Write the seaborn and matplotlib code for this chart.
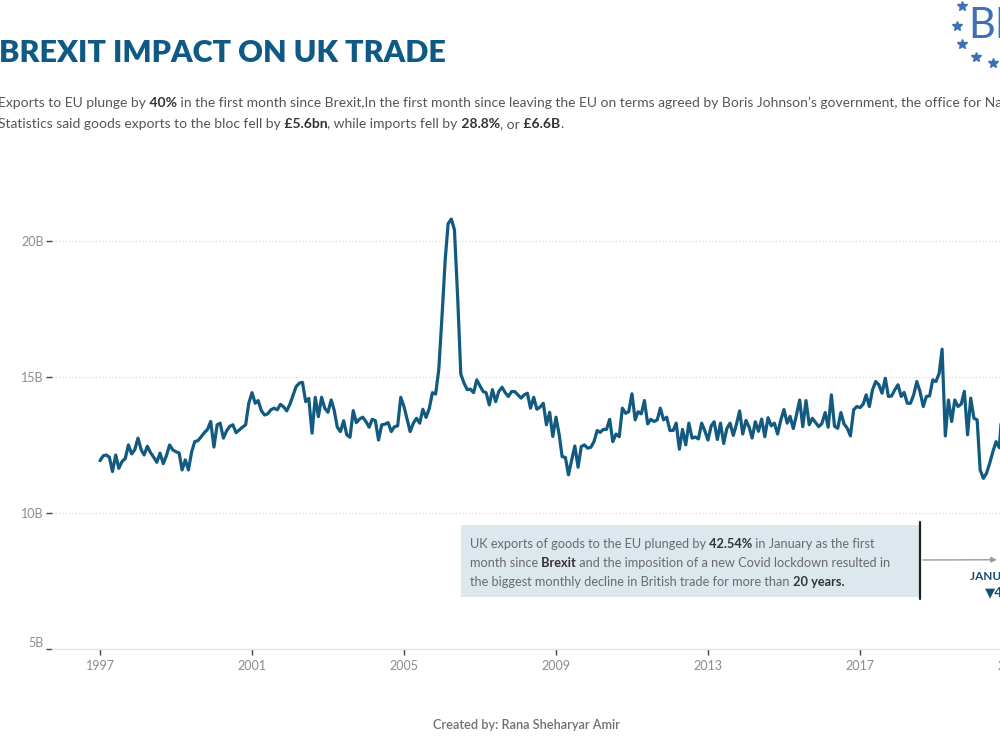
import numpy as np
import pandas as pd
import seaborn as sns
import matplotlib.pyplot as plt

# monthly UK goods exports to the EU, £bn (Jan 1997 .. Jan 2021)
exports_bn = [
    11.92, 12.10, 12.13, 12.05, 11.52, 12.13, 11.64, 11.89, 12.00, 12.50, 12.17, 12.32,  # 1997
    12.75, 12.32, 12.13, 12.45, 12.22, 12.05, 11.86, 12.20, 11.81, 12.10, 12.50, 12.32,  # 1998
    12.25, 12.20, 11.58, 11.95, 11.58, 12.25, 12.62, 12.66, 12.80, 12.95, 13.07, 13.36,  # 1999
    12.42, 13.24, 13.30, 12.75, 13.01, 13.18, 13.24, 12.95, 13.05, 13.15, 13.24, 14.03,  # 2000
    14.42, 14.03, 14.13, 13.76, 13.60, 13.64, 13.79, 13.85, 13.79, 13.99, 13.90, 13.75,  # 2001
    14.00, 14.34, 14.64, 14.77, 14.80, 14.09, 14.21, 12.93, 14.25, 13.54, 14.25, 13.85,  # 2002
    13.70, 14.15, 13.79, 13.15, 12.99, 13.39, 12.87, 12.78, 13.76, 13.32, 13.45, 13.52,  # 2003
    13.36, 13.15, 13.44, 13.39, 12.68, 13.24, 13.26, 13.32, 12.99, 13.17, 13.20, 14.25,  # 2004
    13.91, 13.42, 12.99, 13.30, 13.48, 13.30, 13.81, 13.51, 13.84, 14.42, 14.37, 15.26,  # 2005
    17.20, 19.30, 20.63, 20.80, 20.40, 17.90, 15.10, 14.77, 14.53, 14.55, 14.42, 14.89,  # 2006
    14.67, 14.46, 14.42, 13.97, 14.53, 14.09, 14.46, 14.62, 14.42, 14.28, 14.46, 14.46,  # 2007
    14.34, 14.22, 14.34, 14.40, 13.85, 14.25, 13.81, 13.89, 14.03, 13.24, 13.70, 12.81,  # 2008
    13.52, 12.87, 12.07, 12.04, 11.40, 11.95, 12.46, 11.68, 12.44, 12.50, 12.38, 12.41,  # 2009
    12.62, 13.03, 12.96, 13.07, 13.07, 13.44, 12.62, 12.90, 12.80, 13.85, 13.66, 13.72,  # 2010
    14.38, 13.42, 13.72, 13.64, 14.13, 13.27, 13.44, 13.36, 13.42, 13.85, 13.42, 13.52,  # 2011
    13.03, 13.03, 13.30, 12.34, 13.07, 12.50, 13.30, 12.75, 12.79, 12.72, 13.30, 13.02,  # 2012
    12.68, 13.20, 13.35, 12.70, 13.30, 12.55, 13.10, 13.30, 12.85, 13.25, 13.75, 12.90,  # 2013
    13.40, 13.15, 12.75, 13.35, 13.00, 13.45, 12.80, 13.50, 13.20, 13.30, 12.90, 13.40,  # 2014
    13.80, 13.30, 13.55, 13.10, 13.60, 14.15, 13.17, 14.13, 13.24, 13.48, 13.32, 13.17,  # 2015
    13.29, 13.69, 13.15, 14.34, 13.19, 13.11, 13.69, 13.27, 13.11, 12.83, 13.79, 13.91,  # 2016
    13.87, 14.00, 14.34, 13.91, 14.52, 14.83, 14.71, 14.40, 14.95, 14.28, 14.30, 14.52,  # 2017
    14.71, 14.28, 14.43, 14.03, 14.03, 14.34, 14.83, 14.46, 13.91, 14.28, 14.30, 14.89,  # 2018
    14.83, 15.13, 16.02, 12.83, 14.15, 13.36, 14.15, 13.91, 14.00, 14.47, 12.87, 14.22,  # 2019
    13.48, 13.42, 11.58, 11.27, 11.46, 11.83, 12.25, 12.62, 12.40, 14.00, 14.20, 14.40,  # 2020
    8.28,                                                                                # 2021
]
year_ticks = [1997, 2001, 2005, 2009, 2013, 2017, 2021]
value_ticks = [5, 10, 15, 20]
value_labels = ["5B", "10B", "15B", "20B"]

months = pd.date_range("1997-01-01", periods=len(exports_bn), freq="MS")
df = pd.DataFrame({"month": months, "exports": exports_bn})

W, H = 1000, 750
LINE = "#125a80"
TEXT = "#555555"

sns.set_theme(style="white")
plt.rcParams["font.family"] = ["Lato", "DejaVu Sans"]

fig = plt.figure(figsize=(W / 100, H / 100), dpi=100)
ax = fig.add_axes([52 / W, 1 - 649 / H, 1.0, (649 - 200) / H])

sns.lineplot(data=df, x="month", y="exports", color=LINE, linewidth=2.3, ax=ax)

# x scale: 38 px per year, 1997 tick at x=100
px_per_day = 38 / 365.25
left = pd.Timestamp("1997-01-01") - pd.Timedelta(days=(100 - 52) / px_per_day)
ax.set_xlim(left, left + pd.Timedelta(days=1000 / px_per_day))
ax.set_ylim(5, 21.5)

ax.set_xticks([pd.Timestamp(f"{y}-01-01") for y in year_ticks])
ax.set_xticklabels([str(y) for y in year_ticks])
ax.set_yticks(value_ticks)
ax.set_yticklabels(value_labels)
ax.set_xlabel("")
ax.set_ylabel("")
ax.tick_params(axis="both", bottom=True, left=True, length=4, width=1, color="#444444",
               labelcolor="#8c8c8c", labelsize=9, pad=4)
ax.tick_params(axis="y", pad=2)
ax.get_yticklabels()[0].set_va("bottom")
ax.yaxis.grid(True, linestyle=(0, (1, 2)), color="#d6d6d6", linewidth=0.8)
for s in ["left", "right", "top"]:
    ax.spines[s].set_visible(False)
ax.spines["bottom"].set_color("#e4e4e4")
ax.spines["bottom"].set_linewidth(1)

renderer = fig.canvas.get_renderer()


def rich_line(x_px, y_px, parts, size, color, bold_color):
    x = x_px
    for s, bold in parts:
        t = fig.text(x / W, 1 - y_px / H, s, fontsize=size,
                     fontweight="bold" if bold else "normal",
                     color=bold_color if bold else color, va="center", ha="left")
        x += t.get_window_extent(renderer).width


# title and subtitle
fig.text(-1 / W, 1 - 53 / H, "BREXIT IMPACT ON UK TRADE", fontsize=22,
         fontweight="heavy", color="#0e5a84", va="center", ha="left")
rich_line(-2, 103, [("Exports to EU plunge by", False), (" 40%", True),
                    (" in the first month since Brexit,In the first month since leaving the EU on terms "
                     "agreed by Boris Johnson\u2019s government, the office for National", False)],
          10, TEXT, "#333333")
rich_line(-2, 124, [("Statistics said goods exports to the bloc fell by", False), (" \u00a35.6bn", True),
                    (", while imports fell by", False), (" 28.8%", True), (", or", False),
                    (" \u00a36.6B", True), (".", False)],
          10, TEXT, "#333333")

# logo, cut off at the right edge
star_x = [962, 957, 962, 976, 993]
star_y = [6, 26, 44, 57, 63]
fig.add_artist(plt.Line2D([x / W for x in star_x], [1 - y / H for y in star_y], transform=fig.transFigure,
                          linestyle="none", marker="*", markersize=7, color="#3f6fb5"))
fig.text(968 / W, 1 - 26 / H, "BREXIT", fontsize=30, color="#3f6fb5", va="center", ha="left")

# annotation box
fig.add_artist(plt.Rectangle((461 / W, 1 - 597 / H), (920 - 461) / W, (597 - 525) / H,
                             transform=fig.transFigure, facecolor="#dce7ee", edgecolor="none"))
fig.add_artist(plt.Line2D([920 / W, 920 / W], [1 - 522 / H, 1 - 599 / H], transform=fig.transFigure,
                          color="#222222", linewidth=1.6))
rich_line(470, 544, [("UK exports of goods to the EU plunged by", False), (" 42.54%", True),
                     (" in January as the first", False)], 9.2, "#6b6b6b", "#333333")
rich_line(470, 563, [("month since", False), (" Brexit", True),
                     (" and the imposition of a new Covid lockdown resulted in", False)], 9.2, "#6b6b6b", "#333333")
rich_line(470, 582, [("the biggest monthly decline in British trade for more than", False), (" 20 years.", True)],
          9.2, "#6b6b6b", "#333333")

jan21 = months[-1]
ax.annotate("", xy=(jan21 - pd.Timedelta(days=120), exports_bn[-1]),
            xytext=(920 / W, 1 - 560 / H), textcoords="figure fraction",
            arrowprops=dict(arrowstyle="-|>", color="#9a9a9a", lw=1, mutation_scale=8))
ax.text(jan21, 8.28 - 0.62, "JANUARY 2021", fontsize=8.5, fontweight="bold",
        color="#134f72", ha="center", va="center", clip_on=False)
ax.text(jan21, 8.28 - 1.2, "\u25bc42.54%", fontsize=9.5, fontweight="bold",
        color="#134f72", ha="center", va="center", clip_on=False)

fig.text(526 / W, 1 - 725 / H, "Created by: Rana Sheharyar Amir", fontsize=9.2,
         fontweight="semibold", color="#707070", ha="center", va="center")

fig.savefig("out.png", dpi=100)
